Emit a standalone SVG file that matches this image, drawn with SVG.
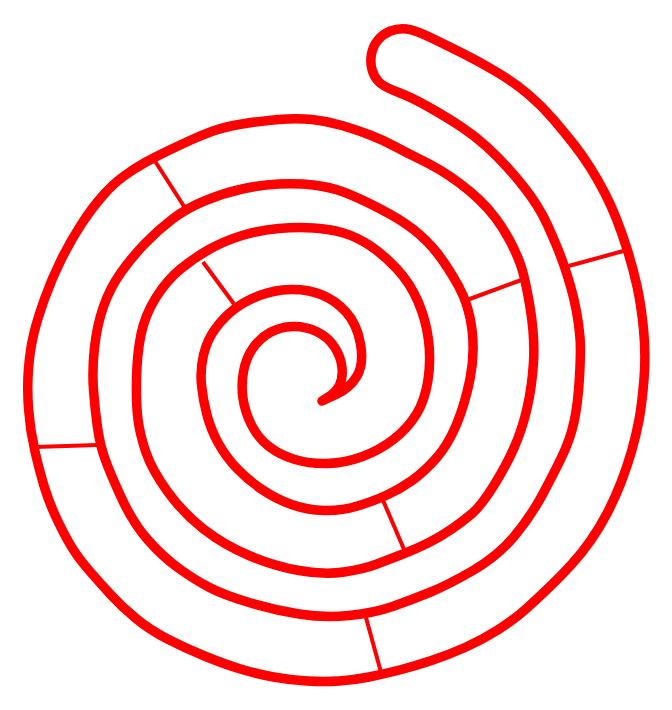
<svg xmlns="http://www.w3.org/2000/svg" width="672" height="710" viewBox="0 0 672 710">
<style>
.wall{fill:none;stroke:#ff0000;stroke-width:9.5;stroke-linecap:round;stroke-linejoin:round}
.bar{fill:none;stroke:#ff0000;stroke-width:4;stroke-linecap:butt}
</style>
<rect width="672" height="710" fill="#ffffff"/>
<g id="spiral">
<path class="wall" d="M322,401 L336,394.5 Q350,388 357,376 Q364,364 360.5,344 Q357,324 346,312 Q335,300 321,294.5 Q307,289 290.5,289.5 Q274,290 259.5,295.5 Q245,301 234.5,309 Q224,317 215.5,328.5 Q207,340 203.5,355 Q200,370 201.5,385 Q203,400 207,415 Q211,430 218.5,443.5 Q226,457 237,468.5 Q248,480 262,489.5 Q276,499 291.5,504.5 Q307,510 324,510.5 Q341,511 357.5,506 Q374,501 387,495 Q400,489 412,480.5 Q424,472 436,458.5 Q448,445 456.5,424.5 Q465,404 470,379 Q475,354 472,329.5 Q469,305 458.5,286 Q448,267 437.5,253.5 Q427,240 413.5,229.5 Q400,219 378.5,208 Q357,197 343.5,192 Q330,187 313.5,185 Q297,183 278.5,184 Q260,185 242,189 Q224,193 205.5,200.5 Q187,208 172.5,219 Q158,230 145,243.5 Q132,257 121,272.5 Q110,288 103.5,306.5 Q97,325 94.5,347.5 Q92,370 93.5,390 Q95,410 97.5,427.5 Q100,445 105,459 Q110,473 121.5,498 Q133,523 148,540 Q163,557 179,568.5 Q195,580 209.5,587.5 Q224,595 249,602.5 Q274,610 299,614 Q324,618 349,615.5 Q374,613 392.5,606.5 Q411,600 429.5,592.5 Q448,585 473,570.5 Q498,556 514.5,536 Q531,516 542,495.5 Q553,475 561.5,457.5 Q570,440 574,422 Q578,404 579.5,377 Q581,350 580,337.5 Q579,325 576.5,311.5 Q574,298 570.5,286 Q567,274 563.5,264 Q560,254 556,244.5 Q552,235 547.5,225 Q543,215 537,205.5 Q531,196 523.5,186.5 Q516,177 507,167 Q498,157 486.5,146.5 Q475,136 461.5,127 Q448,118 429.5,107.5 Q411,97 397.5,92 Q384,87 379,82 Q374,77 372,69.5 Q370,62 371.5,54 Q373,46 378,40 Q383,34 390.5,31 Q398,28 406.5,29 Q415,30 431.5,38 Q448,46 464,54 Q480,62 497.5,72.5 Q515,83 528.5,94.5 Q542,106 553.5,119.5 Q565,133 574,144.5 Q583,156 590.5,168 Q598,180 604.5,192.5 Q611,205 616.5,219 Q622,233 627.5,250.5 Q633,268 637,286 Q641,304 643.5,329 Q646,354 644,379 Q642,404 639,420 Q636,436 631.5,451.5 Q627,467 621,482.5 Q615,498 607.5,512.5 Q600,527 591,540 Q582,553 571,565 Q560,577 549,587.5 Q538,598 526.5,608.5 Q515,619 498.5,629.5 Q482,640 465,647.5 Q448,655 431.5,660.5 Q415,666 399.5,670 Q384,674 369,677 Q354,680 339,681 Q324,682 307,681 Q290,680 273.5,677 Q257,674 240.5,669 Q224,664 204.5,656 Q185,648 167.5,639 Q150,630 136,618.5 Q122,607 111,595 Q100,583 90,571.5 Q80,560 73.5,550 Q67,540 58.5,522.5 Q50,505 45,489 Q40,473 35,451.5 Q30,430 28.5,408.5 Q27,387 28.5,368.5 Q30,350 33.5,335 Q37,320 44.5,299 Q52,278 61.5,259 Q71,240 81.5,224 Q92,208 102.5,196 Q113,184 124,176 Q135,168 146,162 Q157,156 168.5,150.5 Q180,145 191,140 Q202,135 213,131 Q224,127 242,124 Q260,121 278.5,119.5 Q297,118 312,119.5 Q327,121 342,125.5 Q357,130 370,135 Q383,140 395,146.5 Q407,153 418.5,158.5 Q430,164 440,170 Q450,176 460,183.5 Q470,191 479,199.5 Q488,208 495.5,218 Q503,228 509.5,240 Q516,252 520.5,264.5 Q525,277 530,307 Q535,337 533.5,362 Q532,387 527,408.5 Q522,430 514,448 Q506,466 493.5,486 Q481,506 471.5,514 Q462,522 451,529.5 Q440,537 428,543 Q416,549 403,554 Q390,559 377,564 Q364,569 344,572 Q324,575 299,570.5 Q274,566 249,555.5 Q224,545 203.5,529 Q183,513 167.5,491.5 Q152,470 146,452.5 Q140,435 138,419.5 Q136,404 136.5,379 Q137,354 141,334.5 Q145,315 156,297.5 Q167,280 180.5,269 Q194,258 209,249.5 Q224,241 242,235.5 Q260,230 278.5,228.5 Q297,227 313.5,228 Q330,229 343.5,233 Q357,237 370.5,246 Q384,255 397,269 Q410,283 418,301.5 Q426,320 428.5,340 Q431,360 428,380 Q425,400 416.5,414 Q408,428 394,439 Q380,450 362.5,456.5 Q345,463 327.5,463.5 Q310,464 295,459.5 Q280,455 269,446.5 Q258,438 251.5,425 Q245,412 243,398.5 Q241,385 243.5,371.5 Q246,358 253,348 Q260,338 270,332.5 Q280,327 292.5,326.5 Q305,326 316.5,331.5 Q328,337 334.5,347 Q341,357 342,367.5 Q343,378 339.5,385 Q336,392 329,396.5 L322,401"/>
</g>
<g id="bars">
<line class="bar" x1="153" y1="158" x2="187" y2="211"/>
<line class="bar" x1="203" y1="262" x2="234" y2="304"/>
<line class="bar" x1="35" y1="447" x2="97" y2="445"/>
<line class="bar" x1="467" y1="300" x2="524" y2="279"/>
<line class="bar" x1="565" y1="267" x2="627" y2="250"/>
<line class="bar" x1="382" y1="498" x2="406" y2="554"/>
<line class="bar" x1="365" y1="614" x2="382" y2="676"/>
</g>
</svg>
